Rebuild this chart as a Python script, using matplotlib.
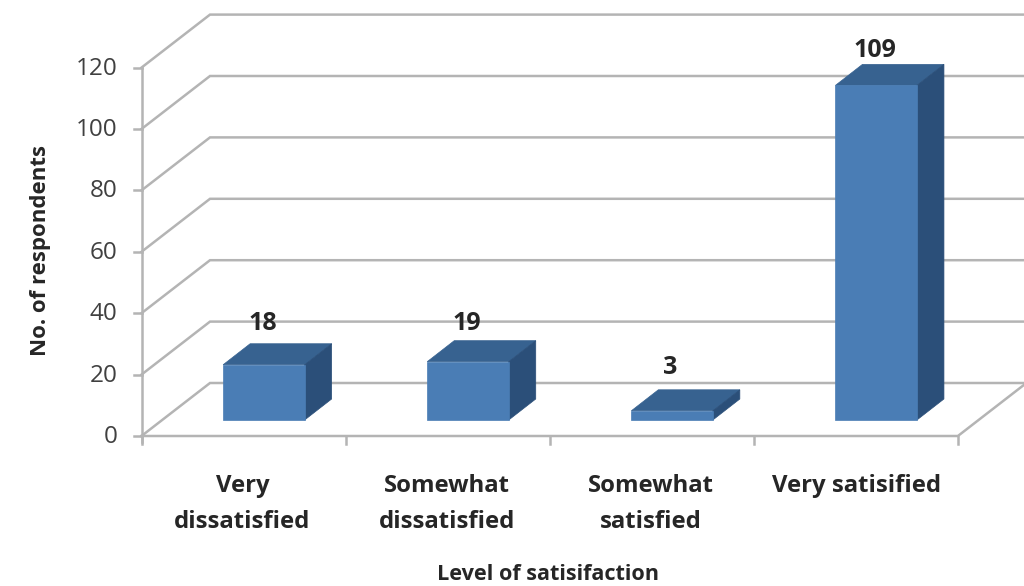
import matplotlib
matplotlib.use("Agg")
import matplotlib.pyplot as plt
from matplotlib.patches import Polygon

categories = ["Very\ndissatisfied", "Somewhat\ndissatisfied", "Somewhat\nsatisfied", "Very satisified"]
values = [18, 19, 3, 109]
yticks = [0, 20, 40, 60, 80, 100, 120]

plt.rcParams['font.family'] = ['Open Sans', 'DejaVu Sans']

W, H = 1024, 586
x0_px, cat_px = 141.5, 204.1
y0_px, val_px = 436, 3.07

fig = plt.figure(figsize=(W/100, H/100), dpi=100)
ax = fig.add_axes([0, 0, 1, 1])
ax.set_xlim(-x0_px/cat_px, (W-x0_px)/cat_px)
ax.set_ylim(-(H-y0_px)/val_px, y0_px/val_px)
ax.axis('off')

# depth of the chart box and of the bars, in axis units
dx, dy = 68.5/cat_px, 53/val_px
bar_dx, bar_dy = 27/cat_px, 21/val_px
floor_y = 16/val_px

grid = '#b4b4b4'
front = '#4a7db5'
top = '#376290'
side = '#2b4f79'
txt = '#262626'

# walls and gridlines
for v in yticks:
    ax.plot([0, dx, 5], [v, v+dy, v+dy], color=grid, lw=1.8, zorder=1, solid_joinstyle='miter')
    ax.plot([-8/cat_px, 0], [v, v], color=grid, lw=1.8, zorder=1)
    ax.text(-24/cat_px, v - 1/val_px, str(v), ha='right', va='center', fontsize=17.5, color='#404040')
ax.plot([0, 0], [-6/val_px, 120], color=grid, lw=1.8, zorder=1)
ax.plot([0, 4, 4+dx], [0, 0, dy], color=grid, lw=1.8, zorder=1)
for i in range(5):
    ax.plot([i, i], [-8/val_px, 0], color=grid, lw=1.8, zorder=1)

# bars, the number sits a little differently above each one
label_gap = [41, 38, 43, 35]
for i, v in enumerate(values):
    l = i + 0.40
    r = l + 81.5/cat_px
    b = floor_y
    t = b + v
    ax.add_patch(Polygon([(l, t), (r, t), (r+bar_dx, t+bar_dy), (l+bar_dx, t+bar_dy)], fc=top, ec=top, lw=0.5, zorder=3))
    ax.add_patch(Polygon([(r, b), (r+bar_dx, b+bar_dy), (r+bar_dx, t+bar_dy), (r, t)], fc=side, ec=side, lw=0.5, zorder=3))
    ax.add_patch(Polygon([(l, b), (r, b), (r, t), (l, t)], fc=front, ec=front, lw=0.5, zorder=4))
    ax.text((l+r)/2 - 1.5/cat_px, t + label_gap[i]/val_px, str(v), ha='center', va='center',
            fontsize=18, fontweight='bold', color=txt, zorder=5)

# category labels hang from the same top line
for i, c in enumerate(categories):
    ax.text(i + 0.495 + (0.01 if i == 3 else 0), (436-474)/val_px, c, ha='center', va='top', fontsize=17.2,
            fontweight='bold', color=txt, linespacing=1.68)

ax.text(1.99, (436-575)/val_px, "Level of satisifaction", ha='center', va='center', fontsize=15.6,
        fontweight='bold', color=txt)
ax.text(-101/cat_px, (436-251)/val_px, "No. of respondents", rotation=90, ha='center', va='center',
        fontsize=16, fontweight='bold', color=txt)

fig.savefig("out.png", dpi=100)
